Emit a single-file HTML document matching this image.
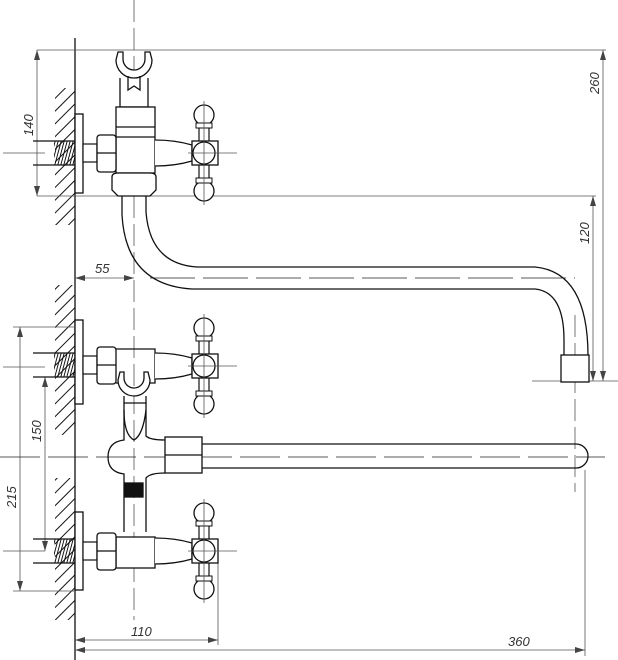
<!DOCTYPE html>
<html><head><meta charset="utf-8"><style>
html,body{margin:0;padding:0;background:#fff}
svg{display:block}
text{font-family:"Liberation Sans",sans-serif;font-style:italic;font-size:13px;fill:#333}
</style></head><body>
<svg width="618" height="660" viewBox="0 0 618 660" xmlns="http://www.w3.org/2000/svg">
<defs>
<marker id="a" viewBox="0 0 10 6" refX="10" refY="3" markerWidth="10" markerHeight="6" orient="auto-start-reverse" markerUnits="userSpaceOnUse"><path d="M0,0 L10,3 L0,6z" fill="#444"/></marker>
<pattern id="h" width="9" height="9" patternUnits="userSpaceOnUse" patternTransform="rotate(45)"><line x1="0" y1="0" x2="0" y2="9" stroke="#111" stroke-width="2"/></pattern>
<pattern id="t" width="3" height="6" patternUnits="userSpaceOnUse" patternTransform="skewX(-15)"><line x1="1" y1="0" x2="1" y2="6" stroke="#111" stroke-width="1"/></pattern>
<g id="handle">
 <path d="M155,-13 Q175,-13 192,-8 L192,8 Q175,13 155,13" fill="#fff" stroke="#111" stroke-width="1.3"/>
 <rect x="199" y="-33" width="10" height="66" fill="#fff" stroke="#111" stroke-width="1.2"/>
 <circle cx="204" cy="-38" r="10" fill="#fff" stroke="#111" stroke-width="1.3"/>
 <rect x="196" y="-30" width="16" height="5" fill="#fff" stroke="#111" stroke-width="1"/>
 <circle cx="204" cy="38" r="10" fill="#fff" stroke="#111" stroke-width="1.3"/>
 <rect x="196" y="25" width="16" height="5" fill="#fff" stroke="#111" stroke-width="1"/>
 <rect x="192" y="-12" width="26" height="24" fill="#fff" stroke="#111" stroke-width="1.3"/>
 <circle cx="204" cy="0" r="11" fill="#fff" stroke="#111" stroke-width="1.3"/>
 <line x1="188" y1="0" x2="237" y2="0" stroke="#555" stroke-width="0.8"/>
 <line x1="204" y1="-52" x2="204" y2="52" stroke="#555" stroke-width="0.8"/>
</g>
<g id="inlet">
 <rect x="54" y="-12" width="21" height="24" fill="url(#t)" stroke="none"/>
 <line x1="33" y1="-12" x2="75" y2="-12" stroke="#111" stroke-width="1.2"/>
 <line x1="33" y1="12" x2="75" y2="12" stroke="#111" stroke-width="1.2"/>
 <rect x="83" y="-9" width="14" height="18" fill="#fff" stroke="#111" stroke-width="1.2"/>
 <rect x="97" y="-18" width="19" height="37" rx="3" fill="#fff" stroke="#111" stroke-width="1.3"/>
 <line x1="97" y1="0" x2="116" y2="0" stroke="#111" stroke-width="1.2"/>
</g>
</defs>
<g fill="none" stroke="#111" stroke-width="1.3">
<rect x="55" y="88" width="20" height="137" fill="url(#h)" stroke="none"/>
<rect x="55" y="285" width="20" height="150" fill="url(#h)" stroke="none"/>
<rect x="55" y="478" width="20" height="142" fill="url(#h)" stroke="none"/>
<line x1="75" y1="38" x2="75" y2="660"/>
<rect x="75" y="114" width="8" height="79" fill="#fff"/>
<rect x="75" y="320" width="8" height="84" fill="#fff"/>
<rect x="75" y="512" width="8" height="78" fill="#fff"/>
</g>
<g stroke="#555" stroke-width="0.8" fill="none">
<line x1="37" y1="50" x2="606" y2="50"/>
<line x1="37" y1="196" x2="596" y2="196"/>
<line x1="37" y1="50" x2="37" y2="196" marker-start="url(#a)" marker-end="url(#a)"/>
<line x1="3" y1="153" x2="45" y2="153"/>
<line x1="593" y1="196" x2="593" y2="381" marker-start="url(#a)" marker-end="url(#a)"/>
<line x1="603" y1="50" x2="603" y2="381" marker-start="url(#a)" marker-end="url(#a)"/>
<line x1="532" y1="381" x2="618" y2="381"/>
<line x1="75" y1="278" x2="134" y2="278" marker-start="url(#a)" marker-end="url(#a)"/>
<line x1="13" y1="327" x2="75" y2="327"/>
<line x1="13" y1="591" x2="75" y2="591"/>
<line x1="20" y1="327" x2="20" y2="591" marker-start="url(#a)" marker-end="url(#a)"/>
<line x1="45" y1="377" x2="45" y2="551" marker-start="url(#a)" marker-end="url(#a)"/>
<line x1="3" y1="367" x2="45" y2="367"/>
<line x1="3" y1="551" x2="45" y2="551"/>
<line x1="218" y1="540" x2="218" y2="645"/>
<line x1="585" y1="470" x2="585" y2="656"/>
<line x1="75" y1="640" x2="218" y2="640" marker-start="url(#a)" marker-end="url(#a)"/>
<line x1="75" y1="650" x2="585" y2="650" marker-start="url(#a)" marker-end="url(#a)"/>
<line x1="134" y1="0" x2="134" y2="620" stroke-dasharray="22,6"/>
<line x1="575" y1="315" x2="575" y2="492" stroke-dasharray="22,6"/>
<line x1="150" y1="278" x2="575" y2="278" stroke="#222" stroke-dasharray="45,8"/>
<line x1="0" y1="457" x2="605" y2="457" stroke="#222" stroke-dasharray="40,8"/>
</g>
<g fill="none" stroke="#111" stroke-width="1.3">
<path d="M120,78 L120,107 L148,107 L148,78" fill="#fff"/>
<path d="M118,52 L116,60 A18,18 0 0 0 152,60 L150,52 L145,52 L145,59 A11,11 0 0 1 123,59 L123,52 Z" fill="#fff"/>
<path d="M128,76 L128,90 L134,86 L140,90 L140,76" />
<rect x="116" y="107" width="39" height="66" fill="#fff"/>
<line x1="116" y1="127" x2="155" y2="127"/><line x1="116" y1="137" x2="155" y2="137"/>
<path d="M112,177 Q112,173 118,173 L150,173 Q156,173 156,177 L156,190 L150,196 L118,196 L112,190 Z" fill="#fff"/>
<path d="M122,196 L122,215 Q126,285 192,289 L535,289 Q564,292 564,340 L564,356"/>
<path d="M146,196 L146,212 Q150,264 197,267 L535,267 Q588,272 588,356"/>
<rect x="561" y="355" width="28" height="27" fill="#fff"/>
<path d="M124,403 L124,440 Q108,442 108,457 Q108,472 124,474 L124,532 M146,403 L146,436 Q150,440 165,440 M165,473 Q150,473 146,478 L146,532"/>
<path d="M124,410 Q124,435 134,440 Q143,435 146,410" />
<rect x="125" y="483" width="18" height="14" fill="#111"/>
<path d="M116,349 L155,349 L155,383 L146,383 M124,383 L116,383 Z"/>
<path d="M118,380 A16,16 0 0 0 150,380 L148,372 L144,372 L144,378 A10,10 0 0 1 124,378 L124,372 L120,372 Z" fill="#fff"/>
<path d="M124,396 L124,403 L146,403 L146,396"/>
<rect x="165" y="437" width="37" height="36" fill="#fff"/>
<line x1="165" y1="455" x2="202" y2="455"/>
<path d="M202,444 L576,444 A12,12 0 0 1 576,468 L202,468"/>
<rect x="116" y="537" width="39" height="31" fill="#fff"/>
</g>
<use href="#inlet" transform="translate(0,153)"/>
<use href="#inlet" transform="translate(0,365)"/>
<use href="#inlet" transform="translate(0,551)"/>
<use href="#handle" transform="translate(0,153)"/>
<use href="#handle" transform="translate(0,366)"/>
<use href="#handle" transform="translate(0,551)"/>
<text x="0" y="0" transform="translate(33,136) rotate(-90)">140</text>
<text x="0" y="0" transform="translate(599,94) rotate(-90)">260</text>
<text x="0" y="0" transform="translate(589,244) rotate(-90)">120</text>
<text x="95" y="273">55</text>
<text x="0" y="0" transform="translate(41,442) rotate(-90)">150</text>
<text x="0" y="0" transform="translate(16,508) rotate(-90)">215</text>
<text x="131" y="636">110</text>
<text x="508" y="646">360</text>
</svg>
</body></html>
